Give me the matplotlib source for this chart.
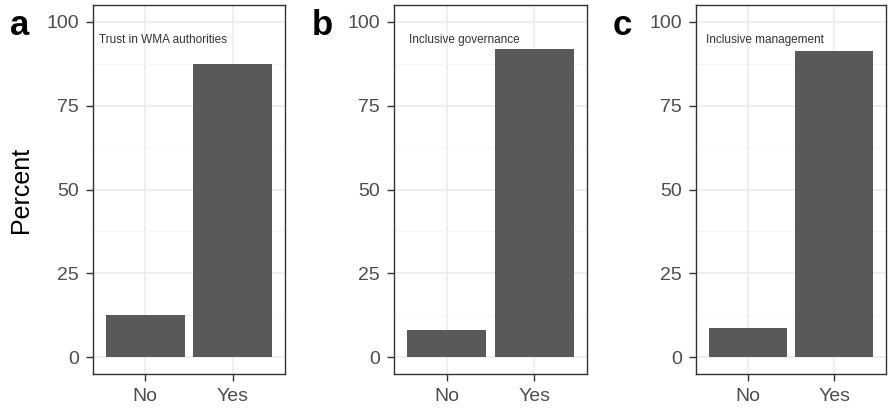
import matplotlib.pyplot as plt
import numpy as np

plt.rcParams['font.family'] = ['Liberation Sans', 'DejaVu Sans']

# data
categories = ['No', 'Yes']
trust = [12.5, 87.5]
governance = [8.1, 91.9]
management = [8.7, 91.3]
panel_titles = ['Trust in WMA authorities', 'Inclusive governance', 'Inclusive management']
panel_letters = ['a', 'b', 'c']
yticks = [0, 25, 50, 75, 100]

series = [trust, governance, management]

fig = plt.figure(figsize=(8.89, 4.11), dpi=100)
lefts = [93, 394, 696]
widths = [192, 193, 190]
bottom = 1 - 374 / 411
height = (374 - 5) / 411
letter_x = [20, 322, 622]

for k, vals in enumerate(series):
    ax = fig.add_axes([lefts[k] / 889, bottom, widths[k] / 889, height])
    x = np.arange(1, len(categories) + 1)
    ax.bar(x, vals, width=0.9, color='#595959', zorder=2)
    ax.set_xlim(0.4, 2.6)
    ax.set_ylim(-5, 105)
    ax.set_xticks(x)
    ax.set_xticklabels(categories)
    ax.set_yticks(yticks)
    # minor grid between majors like ggplot
    ax.set_yticks([12.5, 37.5, 62.5, 87.5], minor=True)
    ax.grid(True, which='major', color='#ebebeb', linewidth=1.1, zorder=0)
    ax.grid(True, which='minor', axis='y', color='#f3f3f3', linewidth=0.6, zorder=0)
    ax.tick_params(which='minor', length=0)
    ax.tick_params(which='major', length=5, width=1, color='#333333',
                   labelsize=14, labelcolor='#4d4d4d', pad=5)
    for sp in ax.spines.values():
        sp.set_color('#333333')
        sp.set_linewidth(1.0)
    ax.text(1.2, 94.5, panel_titles[k], fontsize=8.5, color='#333333',
            ha='center', va='center')
    fig.text(letter_x[k] / 889, 1 - 35 / 411, panel_letters[k], fontsize=25,
             fontweight='bold', ha='center', va='baseline')
    if k == 0:
        ax.set_ylabel('Percent', fontsize=18)
        ax.yaxis.set_label_coords(-0.31, 0.5)

fig.savefig('out.png', dpi=100)
